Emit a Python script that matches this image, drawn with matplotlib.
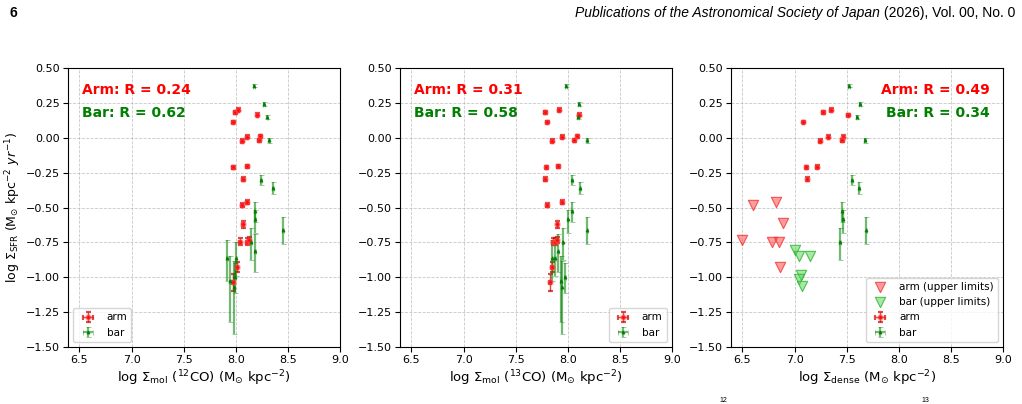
import matplotlib
matplotlib.use("Agg")
import matplotlib.pyplot as plt
import numpy as np

# ---- data ----
# arm (detections), same order in the three panels where present
arm_y = [0.182, 0.201, 0.113, 0.165, 0.007, -0.022, 0.010, -0.019, -0.211, -0.206,
         -0.295, -0.484, -0.460, -0.620, -0.745, -0.745, -0.733, -0.924, -1.035]
arm_yerr = [0.010, 0.010, 0.010, 0.010, 0.010, 0.010, 0.010, 0.010, 0.010, 0.010,
            0.012, 0.015, 0.015, 0.025, 0.025, 0.025, 0.025, 0.035, 0.060]
arm_x_12co = [7.993, 8.025, 7.974, 8.208, 8.106, 8.061, 8.237, 8.218, 7.971, 8.106,
              8.070, 8.061, 8.106, 8.067, 8.042, 8.103, 8.128, 8.010, 7.974]
arm_x_13co = [7.779, 7.916, 7.800, 8.103, 7.946, 7.850, 8.093, 8.064, 7.795, 7.906,
              7.782, 7.800, 7.940, 7.900, 7.858, 7.880, 7.900, 7.846, 7.827]

# bar (detections)
bar_y = [0.374, 0.242, 0.148, -0.019, -0.302, -0.357, -0.525, -0.585, -0.660, -0.750,
         -0.810, -0.860, -1.030, -0.860, -0.995, -1.070]
bar_err_lo = [0.008, 0.012, 0.015, 0.020, 0.040, 0.045, 0.080, 0.100, 0.100, 0.125,
              0.155, 0.170, 0.290, 0.130, 0.120, 0.340]
bar_err_hi = [0.008, 0.012, 0.015, 0.020, 0.038, 0.042, 0.063, 0.065, 0.090, 0.105,
              0.120, 0.130, 0.180, 0.110, 0.100, 0.190]
bar_x_12co = [8.176, 8.272, 8.304, 8.323, 8.240, 8.355, 8.180, 8.189, 8.455, 8.147,
              8.186, 7.917, 7.942, 8.006, 7.990, 7.980]
bar_x_13co = [7.983, 8.107, 8.100, 8.188, 8.042, 8.122, 8.040, 7.998, 8.188, 7.950,
              7.910, 7.853, 7.935, 7.880, 7.976, 7.940]

# dense gas panel: detections and upper limits
arm_x_dense = [7.085, 7.270, 7.350, 7.513, 7.325, 7.242, 7.469, 7.453, 7.114, 7.213, 7.124]
arm_y_dense = [0.113, 0.182, 0.201, 0.163, 0.007, -0.022, 0.007, -0.019, -0.211, -0.208, -0.295]
arm_ul_x = [6.605, 6.820, 6.890, 6.500, 6.788, 6.852, 6.862]
arm_ul_y = [-0.481, -0.460, -0.613, -0.733, -0.745, -0.745, -0.924]

bar_x_dense = [7.520, 7.625, 7.600, 7.676, 7.550, 7.617, 7.459, 7.465, 7.690, 7.433]
bar_y_dense = [0.374, 0.242, 0.148, -0.019, -0.302, -0.357, -0.525, -0.585, -0.660, -0.750]
bar_ul_x = [7.005, 7.043, 7.145, 7.060, 7.043, 7.075]
bar_ul_y = [-0.805, -0.848, -0.848, -0.984, -1.015, -1.060]

r_arm = [0.24, 0.31, 0.49]
r_bar = [0.62, 0.58, 0.34]

xlabels = [r"log $\Sigma_{\rm mol}$ ($^{12}$CO) (M$_{\odot}$ kpc$^{-2}$)",
           r"log $\Sigma_{\rm mol}$ ($^{13}$CO) (M$_{\odot}$ kpc$^{-2}$)",
           r"log $\Sigma_{\rm dense}$ (M$_{\odot}$ kpc$^{-2}$)"]
ylabel = r"log $\Sigma_{\rm SFR}$ (M$_{\odot}$ kpc$^{-2}$ $yr^{-1}$)"


def draw_arm(ax, x, y, yerr):
    ax.errorbar(x, y, yerr=yerr, xerr=[0.008] * len(x), fmt="o", ms=3.2,
                mfc="red", mec=(1, 0.35, 0.35, 0.45), mew=1.6,
                ecolor=(0.8, 0.0, 0.0, 0.7), elinewidth=1.0, capsize=1.8,
                capthick=0.8, label="arm", zorder=3)


def draw_bar(ax, x, y, lo, hi):
    ax.errorbar(x, y, yerr=[lo, hi], xerr=[0.008] * len(x), fmt="^", ms=2.2,
                mfc="green", mec="green", mew=0.5,
                ecolor=(0.0, 0.5, 0.0, 0.55), elinewidth=1.6, capsize=1.8,
                capthick=0.9, label="bar", zorder=3)


fig = plt.figure(figsize=(10.22, 4.04), dpi=100)
lefts = [68 / 1022, 400 / 1022, 731 / 1022]
axes = [fig.add_axes([l, 1 - 347 / 404, 272 / 1022, 279 / 404]) for l in lefts]

# panel 1: 12CO
draw_arm(axes[0], arm_x_12co, arm_y, arm_yerr)
draw_bar(axes[0], bar_x_12co, bar_y, bar_err_lo, bar_err_hi)
# panel 2: 13CO
draw_arm(axes[1], arm_x_13co, arm_y, arm_yerr)
draw_bar(axes[1], bar_x_13co, bar_y, bar_err_lo, bar_err_hi)
# panel 3: dense gas
axes[2].scatter(arm_ul_x, arm_ul_y, marker="v", s=55, facecolor=(1, 0.3, 0.3, 0.55),
                edgecolor=(0.95, 0.2, 0.2, 0.8), linewidth=0.8, label="arm (upper limits)")
axes[2].scatter(bar_ul_x, bar_ul_y, marker="v", s=55, facecolor=(0.35, 0.85, 0.35, 0.55),
                edgecolor=(0.2, 0.7, 0.2, 0.8), linewidth=0.8, label="bar (upper limits)")
draw_arm(axes[2], arm_x_dense, arm_y_dense, arm_yerr[:11])
draw_bar(axes[2], bar_x_dense, bar_y_dense, bar_err_lo[:10], bar_err_hi[:10])

for i, ax in enumerate(axes):
    ax.set_xlim(6.39, 9.0)
    ax.set_ylim(-1.5, 0.5)
    ax.set_xticks(np.arange(6.5, 9.01, 0.5))
    ax.set_yticks(np.arange(-1.5, 0.51, 0.25))
    ax.tick_params(labelsize=8, length=3.5, pad=2.5)
    ax.grid(True, linestyle="--", color="#b0b0b0", linewidth=0.6, alpha=0.7)
    ax.set_axisbelow(True)
    ax.set_xlabel(xlabels[i], fontsize=9.5, labelpad=2)
    if i < 2:
        ax.text(0.05, 0.92, "Arm: R = %.2f" % r_arm[i], transform=ax.transAxes,
                color="red", fontsize=10, fontweight="bold", va="center")
        ax.text(0.05, 0.84, "Bar: R = %.2f" % r_bar[i], transform=ax.transAxes,
                color="green", fontsize=10, fontweight="bold", va="center")
    else:
        ax.text(0.95, 0.92, "Arm: R = %.2f" % r_arm[i], transform=ax.transAxes,
                color="red", fontsize=10, fontweight="bold", va="center", ha="right")
        ax.text(0.95, 0.84, "Bar: R = %.2f" % r_bar[i], transform=ax.transAxes,
                color="green", fontsize=10, fontweight="bold", va="center", ha="right")

axes[0].set_ylabel(ylabel, fontsize=9, labelpad=2)
axes[0].legend(loc="lower left", fontsize=7.5)
axes[1].legend(loc="lower right", fontsize=7.5)
axes[2].legend(loc="lower right", fontsize=7.5)

# page header
fig.text(10 / 1022, 1 - 13 / 404, "6", fontsize=10, fontweight="bold",
         family="Liberation Sans", va="center")
tail = fig.text(1015 / 1022, 1 - 13 / 404, " (2026), Vol. 00, No. 0", fontsize=10,
                family="Liberation Sans", va="center", ha="right")
fig.canvas.draw()
x0 = tail.get_window_extent().x0 / fig.bbox.width
fig.text(x0, 1 - 13 / 404, "Publications of the Astronomical Society of Japan",
         fontsize=10, family="Liberation Sans", style="italic", va="center", ha="right")

# clipped superscripts of the caption line below
fig.text(719 / 1022, 1 - 401 / 404, "12", fontsize=5, family="Liberation Sans", va="center")
fig.text(921 / 1022, 1 - 401 / 404, "13", fontsize=5, family="Liberation Sans", va="center")

fig.savefig("out.png", dpi=100)
